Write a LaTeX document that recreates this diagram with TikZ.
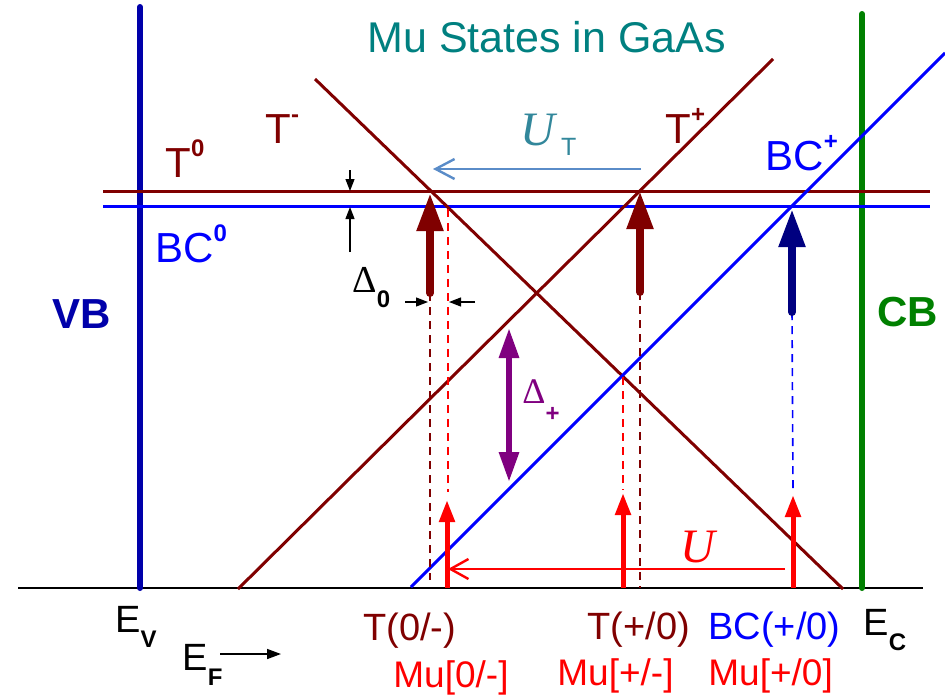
\documentclass[tikz,border=0pt]{standalone}
\usepackage{fontspec}
\setmainfont{Liberation Sans}
\newfontfamily\serifont{Liberation Serif}
\usetikzlibrary{arrows.meta}

\definecolor{tred}{RGB}{128,0,0}
\definecolor{bcblue}{RGB}{0,0,255}
\definecolor{vbblue}{RGB}{0,0,170}
\definecolor{bcnavy}{RGB}{0,0,128}
\definecolor{cbgreen}{RGB}{0,128,0}
\definecolor{titleteal}{RGB}{0,128,128}
\definecolor{utline}{RGB}{90,140,200}
\definecolor{utlabel}{RGB}{50,135,155}
\definecolor{dpurple}{RGB}{128,0,128}

\newcommand{\supr}[1]{\raisebox{0.5em}{\fontsize{12}{12}\selectfont\bfseries #1}}
\newcommand{\subr}[1]{\raisebox{-7.5pt}{\fontsize{12}{12}\selectfont\bfseries #1}}

\begin{document}
\begin{tikzpicture}[x=0.5pt, y=-0.5pt,
    lbl/.style={inner sep=0pt, anchor=base west, font=\fontsize{21}{24}\selectfont},
    bot/.style={inner sep=0pt, anchor=base west, font=\fontsize{19}{22}\selectfont},
    level/.style={line width=1.5pt},
    bigarrow/.style={line width=4pt, line cap=round, -{Triangle[length=19pt,width=12.5pt]}},
    redarrow/.style={red, line width=2.5pt, -{Triangle[length=11pt,width=7.5pt]}},
    dropline/.style={line width=0.8pt, dash pattern=on 4pt off 3pt},
    tick/.style={line width=0.6pt, -{Triangle[length=6pt,width=4.5pt]}}]
    \useasboundingbox (0,0) rectangle (945,696);

    % band edges and axis
    \coordinate (axisL) at (18,588);  \coordinate (axisR) at (923,588);
    \coordinate (vbT) at (140,7);     \coordinate (vbB) at (140,588);
    \coordinate (cbT) at (862,14);    \coordinate (cbB) at (862,588);
    \draw[line width=1pt] (axisL) -- (axisR);
    \draw[vbblue, line width=3pt, line cap=round] (vbT) -- (vbB);
    \draw[cbgreen, line width=3pt, line cap=round] (cbT) -- (cbB);

    % levels
    \coordinate (t0L) at (103,191);   \coordinate (t0R) at (930,191);
    \coordinate (bc0L) at (103,206);  \coordinate (bc0R) at (930,206);
    \coordinate (tmT) at (315,79);    \coordinate (tmB) at (843,589);
    \coordinate (tpB) at (238,589);   \coordinate (tpT) at (773,59);
    \coordinate (bcpB) at (411,587);  \coordinate (bcpT) at (945,53);
    \draw[tred, level] (t0L) -- (t0R);
    \draw[bcblue, level] (bc0L) -- (bc0R);
    \draw[tred, level] (tmT) -- (tmB);
    \draw[tred, level] (tpB) -- (tpT);
    \draw[bcblue, level] (bcpB) -- (bcpT);

    % transition points
    \coordinate (m0top) at (430,193);  \coordinate (m0bot) at (430,293);
    \coordinate (m0end) at (430,580);
    \coordinate (mbtop) at (448,209);  \coordinate (mbend) at (448,492);
    \coordinate (mutA) at (447,500);   \coordinate (mubA) at (447,588);
    \coordinate (p0top) at (640,191);  \coordinate (p0bot) at (640,292);
    \coordinate (p0end) at (640,588);
    \coordinate (mptop) at (623,377);  \coordinate (mpend) at (623,490);
    \coordinate (mutB) at (623,493);   \coordinate (mubB) at (623,588);
    \coordinate (bctop) at (792,209);  \coordinate (bcbot) at (792,312);
    \coordinate (bcend) at (793,492);
    \coordinate (mutC) at (793,495);   \coordinate (mubC) at (793,588);
    \draw[tred, dropline] (m0bot) -- (m0end);
    \draw[red, dropline] (mbtop) -- (mbend);
    \draw[tred, dropline] (p0bot) -- (p0end);
    \draw[red, dropline] (mptop) -- (mpend);
    \draw[bcblue, dropline] (bcbot) -- (bcend);
    \draw[tred, bigarrow] (m0bot) -- (m0top);
    \draw[tred, bigarrow] (p0bot) -- (p0top);
    \draw[bcnavy, bigarrow] (bcbot) -- (bctop);
    \draw[redarrow] (mubA) -- (mutA);
    \draw[redarrow] (mubB) -- (mutB);
    \draw[redarrow] (mubC) -- (mutC);

    % splittings
    \coordinate (dpT) at (509,328);  \coordinate (dpB) at (509,482);
    \draw[dpurple, line width=3pt, {Triangle[length=15pt,width=9.5pt]}-{Triangle[length=15pt,width=9.5pt]}] (dpT) -- (dpB);
    \coordinate (uR) at (785,569);   \coordinate (uL) at (448,569);
    \draw[red, line width=1.2pt, -{Straight Barb[length=9pt,width=10pt]}] (uR) -- (uL);
    \coordinate (utR) at (641,169);  \coordinate (utL) at (433,169);
    \draw[utline, line width=1.2pt, -{Straight Barb[length=9.5pt,width=10pt]}] (utR) -- (utL);
    \coordinate (d0a) at (350,170);  \coordinate (d0b) at (350,191);
    \coordinate (d0c) at (350,252);  \coordinate (d0d) at (350,207);
    \coordinate (d0e) at (405,302);  \coordinate (d0f) at (428,302);
    \coordinate (d0g) at (475,302);  \coordinate (d0h) at (449,302);
    \draw[tick] (d0a) -- (d0b);
    \draw[tick] (d0c) -- (d0d);
    \draw[tick] (d0e) -- (d0f);
    \draw[tick] (d0g) -- (d0h);

    % labels
    \node[lbl, titleteal, font=\fontsize{21.5}{24}\selectfont] (title) at (367,52) {Mu States in GaAs};
    \node[lbl, tred] (lT0) at (165,177) {T\supr{0}};
    \node[lbl, tred] (lTm) at (265,143) {T\supr{-}};
    \node[lbl, tred] (lTp) at (665,143) {T\supr{+}};
    \node[lbl, bcblue] (lBCp) at (765,170) {BC\supr{+}};
    \node[lbl, bcblue] (lBC0) at (155,262) {BC\supr{0}};
    \node[lbl, vbblue, font=\fontsize{21}{24}\selectfont\bfseries] (lVB) at (52,328) {VB};
    \node[lbl, cbgreen, font=\fontsize{21}{24}\selectfont\bfseries] (lCB) at (877,326) {CB};
    \node[lbl, utlabel] (lUT) at (520,145) {{\serifont\itshape\fontsize{24}{26}\selectfont U}\hspace{3pt}\raisebox{-5pt}{\fontsize{12.5}{13}\selectfont T}};
    \node[lbl, red] (lU) at (680,562) {\serifont\itshape\fontsize{24}{26}\selectfont U};
    \node[lbl] (lD0) at (352,292) {{\serifont\fontsize{19}{20}\selectfont Δ}\subr{0}};
    \node[lbl, dpurple] (lDp) at (522,403) {{\serifont\fontsize{18}{20}\selectfont Δ}\raisebox{-9pt}{\fontsize{12}{12}\selectfont\bfseries +}};

    % axis labels
    \node[bot] (lEV) at (115,632) {E\subr{V}};
    \node[bot] (lEF) at (182,670) {E\subr{F}};
    \node[bot] (lEC) at (863,635) {E\subr{C}};
    \coordinate (efA) at (220,654);  \coordinate (efB) at (281,654);
    \draw[line width=0.8pt, -{Triangle[length=7pt,width=5pt]}] (efA) -- (efB);
    \node[bot, tred] (lTa) at (363,640) {T(0/-)};
    \node[bot, tred] (lTb) at (587,639) {T(+/0)};
    \node[bot, bcblue] (lBCa) at (708,639) {BC(+/0)};
    \node[bot, red, font=\fontsize{18.5}{22}\selectfont] (lMa) at (393,687) {Mu[0/-]};
    \node[bot, red, font=\fontsize{18.5}{22}\selectfont] (lMb) at (557,685) {Mu[+/-]};
    \node[bot, red, font=\fontsize{18.5}{22}\selectfont] (lMc) at (708,685) {Mu[+/0]};
\end{tikzpicture}
\end{document}
